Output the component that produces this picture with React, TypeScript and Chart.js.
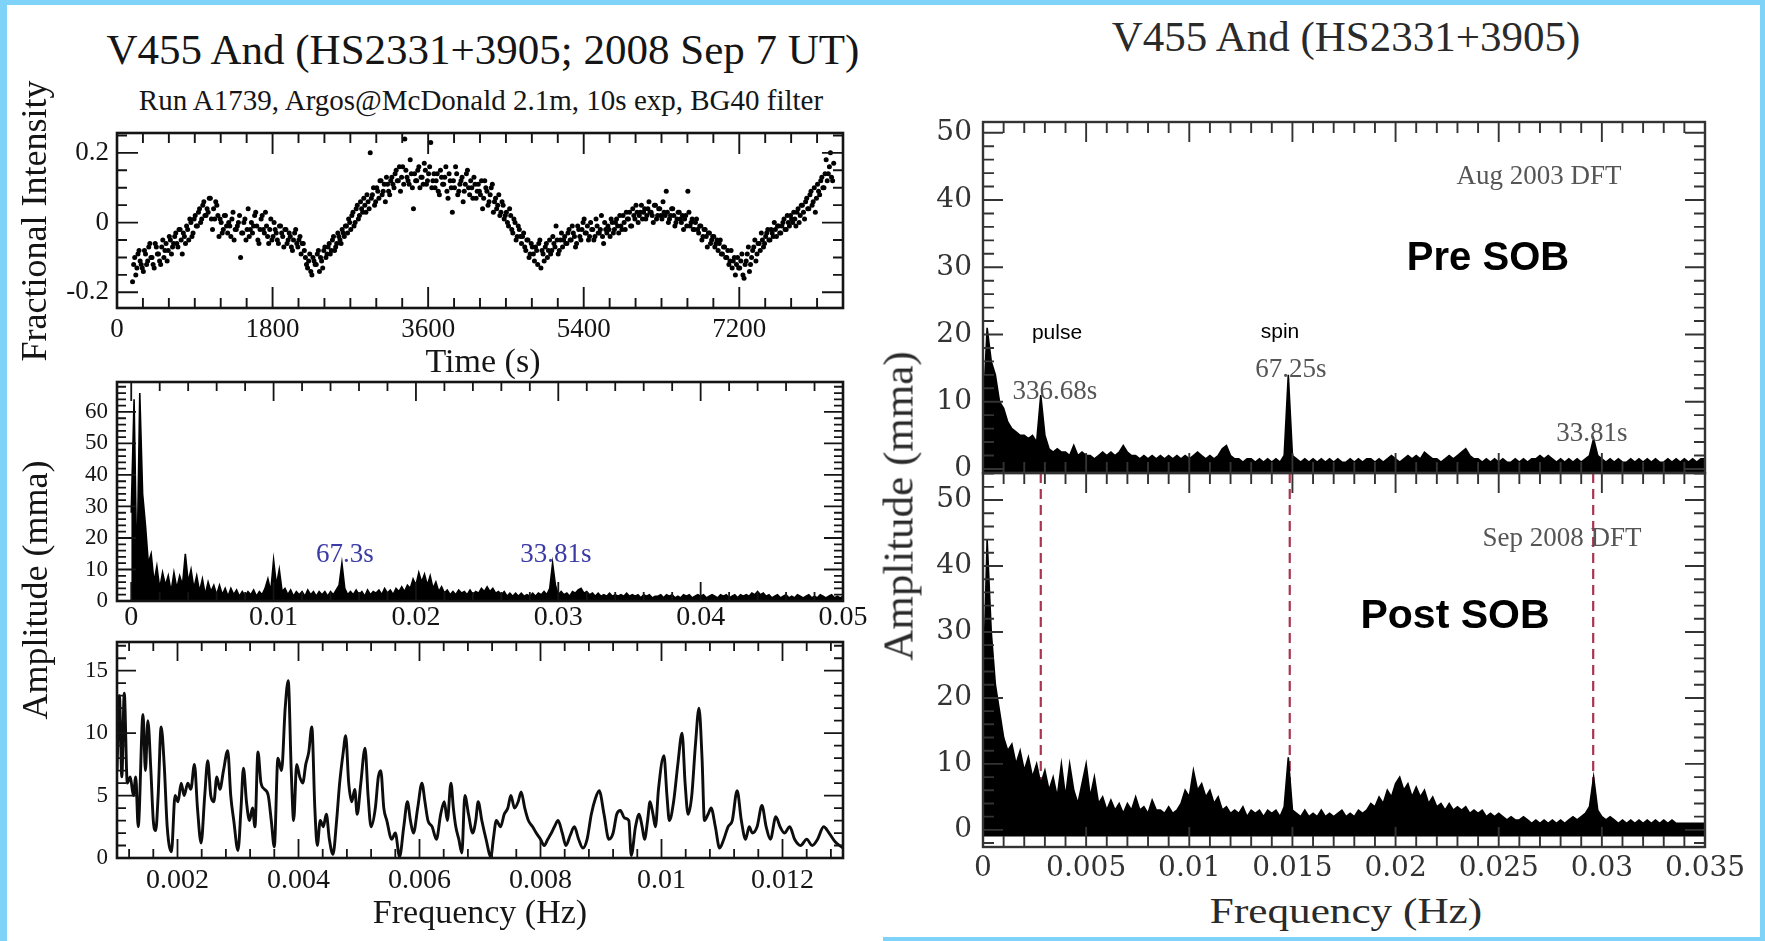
import React, { useEffect, useRef } from "react";
import { Chart, registerables } from "chart.js";

Chart.register(...registerables);

// ---------------- Panel 1: light curve (Run A1739) ----------------
const LC_T0 = 180; // s, time of first plotted point
const LC_DT = 25; // s, spacing of plotted points in each list
const LC_T0_B = 192.5; // s, second (interleaved) list of points
const LC_FLUX = [
  -0.17, -0.10, -0.13, -0.08, -0.12, -0.14, -0.09, -0.11, -0.06, -0.10, -0.13, -0.07, -0.09, -0.12, -0.05, -0.08, -0.11, -0.04, -0.09, -0.06,
  -0.03, -0.07, -0.02, -0.09, -0.04, -0.01, -0.05, 0.00, -0.03, 0.02, -0.01, 0.04, 0.01, 0.06, 0.02, 0.03, 0.07, -0.02, 0.01, 0.05,
  -0.04, 0.00, -0.02, 0.02, -0.03, -0.01, 0.01, -0.05, -0.02, 0.00, -0.10, -0.03, 0.01, -0.02, -0.04, 0.00, -0.01, 0.03, -0.05, -0.02,
  0.02, -0.03, -0.01, -0.06, 0.01, -0.04, -0.02, -0.05, -0.01, -0.03, -0.07, -0.02, -0.05, -0.04, -0.08, -0.03, -0.06, -0.05, -0.09, -0.06,
  -0.10, -0.13, -0.09, -0.15, -0.11, -0.12, -0.08, -0.10, -0.13, -0.07, -0.09, -0.06, -0.08, -0.04, -0.07, -0.03, -0.05, -0.02, -0.04, -0.01,
  0.01, -0.02, 0.03, 0.00, 0.05, 0.02, 0.04, 0.07, 0.03, 0.06, 0.20, 0.08, 0.05, 0.10, 0.07, 0.12, 0.09, 0.06, 0.11, 0.08,
  0.13, 0.10, 0.15, 0.12, 0.09, 0.16, 0.24, 0.13, 0.11, 0.14, 0.04, 0.12, 0.15, 0.10, 0.13, 0.17, 0.11, 0.14, 0.23, 0.12,
  0.10, 0.14, 0.08, 0.13, 0.11, 0.16, 0.07, 0.12, 0.03, 0.10, 0.14, 0.09, 0.12, 0.06, 0.11, 0.15, 0.08, 0.10, 0.13, 0.07,
  0.11, 0.08, 0.04, 0.12, 0.09, 0.06, 0.10, 0.03, 0.07, 0.05, 0.02, 0.06, 0.01, 0.03, -0.01, 0.02, -0.03, 0.00, -0.04, -0.02,
  -0.06, -0.03, -0.08, -0.05, -0.09, -0.07, -0.11, -0.08, -0.06, -0.13, -0.09, -0.07, -0.10, -0.05, -0.08, -0.06, -0.01, -0.09, -0.05, -0.07,
  -0.04, -0.06, -0.02, -0.05, -0.03, -0.07, -0.01, -0.04, -0.02, 0.01, -0.03, -0.05, 0.00, -0.02, -0.04, -0.01, -0.03, 0.02, -0.06, -0.02,
  -0.01, -0.04, 0.00, -0.02, 0.01, -0.03, -0.01, 0.02, -0.02, 0.01, 0.03, -0.01, 0.02, 0.05, 0.00, 0.03, 0.01, 0.04, 0.02, 0.06,
  0.03, 0.00, 0.05, 0.02, 0.04, 0.01, 0.03, 0.09, 0.00, 0.02, 0.04, -0.01, 0.01, 0.03, 0.00, -0.02, 0.02, 0.09, -0.01, 0.01,
  -0.02, 0.01, -0.03, -0.01, -0.04, -0.02, -0.07, -0.03, -0.05, -0.04, -0.06, -0.08, -0.05, -0.09, -0.07, -0.10, -0.12, -0.08, -0.11, -0.15,
  -0.10, -0.13, -0.09, -0.16, -0.11, -0.07, -0.12, -0.08, -0.05, -0.09, -0.06, -0.03, -0.07, -0.04, -0.02, -0.05, -0.03, 0.00, -0.04, -0.01,
  -0.03, 0.00, -0.02, 0.02, -0.01, 0.01, 0.03, -0.01, 0.04, 0.02, 0.05, 0.01, 0.07, 0.04, 0.09, 0.06, 0.03, 0.11, 0.08, 0.13,
  0.10, 0.18, 0.14, 0.20, 0.12,
];
const LC_FLUX_B = [
  -0.12, -0.15, -0.09, -0.11, -0.13, -0.08, -0.12, -0.07, -0.10, -0.12, -0.06, -0.09, -0.11, -0.07, -0.10, -0.06, -0.08, -0.05, -0.07, -0.04,
  -0.06, -0.02, -0.05, -0.03, -0.06, -0.02, 0.01, -0.04, 0.01, -0.01, 0.03, 0.00, 0.05, 0.02, 0.04, 0.07, 0.01, 0.04, 0.06, 0.02,
  0.01, -0.03, 0.02, -0.01, 0.00, -0.04, 0.03, -0.02, -0.01, 0.02, -0.03, 0.00, -0.05, 0.04, -0.02, -0.03, 0.02, -0.01, -0.06, 0.01,
  -0.02, 0.03, -0.04, -0.02, -0.05, 0.00, -0.03, -0.06, -0.01, -0.04, -0.02, -0.06, -0.03, -0.07, -0.05, -0.02, -0.07, -0.04, -0.06, -0.08,
  -0.12, -0.11, -0.14, -0.10, -0.12, -0.09, -0.14, -0.11, -0.08, -0.10, -0.07, -0.09, -0.05, -0.08, -0.06, -0.04, -0.06, -0.03, -0.01, -0.03,
  0.00, 0.02, -0.01, 0.04, 0.01, 0.06, 0.03, 0.05, 0.08, 0.04, 0.07, 0.10, 0.06, 0.09, 0.12, 0.08, 0.11, 0.13, 0.09, 0.12,
  0.11, 0.14, 0.12, 0.16, 0.13, 0.11, 0.15, 0.12, 0.18, 0.10, 0.14, 0.12, 0.16, 0.13, 0.11, 0.15, 0.12, 0.16, 0.10, 0.14,
  0.12, 0.09, 0.15, 0.11, 0.13, 0.09, 0.14, 0.10, 0.12, 0.16, 0.08, 0.11, 0.13, 0.09, 0.14, 0.10, 0.12, 0.07, 0.11, 0.09,
  0.09, 0.12, 0.07, 0.10, 0.05, 0.08, 0.11, 0.06, 0.04, 0.08, 0.03, 0.05, 0.02, 0.00, 0.04, -0.02, 0.01, -0.05, -0.01, -0.04,
  -0.04, -0.07, -0.05, -0.10, -0.06, -0.09, -0.07, -0.12, -0.05, -0.08, -0.11, -0.06, -0.08, -0.09, -0.04, -0.07, -0.05, -0.08, -0.03, -0.05,
  -0.06, -0.03, -0.05, -0.01, -0.04, -0.06, -0.02, -0.05, 0.00, -0.03, -0.01, -0.04, -0.02, -0.05, 0.01, -0.03, -0.02, -0.04, 0.00, -0.03,
  -0.02, 0.01, -0.03, 0.00, -0.01, 0.02, -0.02, 0.00, 0.03, 0.01, -0.01, 0.04, 0.01, 0.03, 0.02, 0.05, 0.03, 0.01, 0.04, 0.03,
  0.02, 0.05, 0.01, 0.04, 0.02, 0.06, 0.02, 0.03, 0.01, 0.04, 0.02, 0.00, 0.03, 0.01, 0.02, 0.01, -0.01, 0.03, 0.00, -0.02,
  0.00, -0.02, -0.01, -0.05, -0.02, -0.04, -0.03, -0.06, -0.04, -0.07, -0.05, -0.06, -0.09, -0.07, -0.10, -0.08, -0.11, -0.13, -0.10, -0.12,
  -0.13, -0.11, -0.15, -0.12, -0.09, -0.14, -0.10, -0.07, -0.11, -0.06, -0.08, -0.05, -0.06, -0.03, -0.05, -0.02, -0.04, -0.02, -0.01, -0.03,
  -0.01, 0.01, -0.02, 0.00, 0.02, 0.00, 0.01, 0.03, 0.00, 0.05, 0.03, 0.06, 0.04, 0.08, 0.05, 0.10, 0.07, 0.09, 0.12, 0.10,
  0.14, 0.12, 0.16, 0.13, 0.17,
];
const LC_X_TICKS = [0, 1800, 3600, 5400, 7200];
const LC_Y_TICKS = [-0.2, 0, 0.2];

// ---------------- Panel 2: DFT 0 - 0.05 Hz (Sep 2008) ----------------
const DFT_STEP = 0.0002; // Hz, frequency grid of the plotted amplitude spectra
const DFT_WIDE = [
  28, 64, 8, 66, 34, 24, 12, 15, 6, 11,
  4, 9, 5, 8, 3, 9, 4, 8, 5, 15,
  6, 10, 4, 8, 3, 7, 2, 6, 3, 5,
  2, 5, 2, 4, 1.5, 4, 2, 3.5, 1.5, 3,
  1.5, 3, 2, 3.5, 1.5, 3, 2, 4, 7, 3,
  13, 5, 10, 3, 4, 2, 3.5, 1.5, 3, 2,
  3, 1.5, 3.5, 2, 3, 1.5, 3, 2, 3, 1.5,
  3, 2, 3.5, 5, 12, 4, 2, 3, 2, 3.5,
  2, 3, 1.5, 3.5, 2, 3, 2.5, 3.5, 2, 4,
  2.5, 3.5, 2, 4, 3, 4.5, 3, 5, 4, 7,
  5, 9, 6, 8.5, 5, 8, 4, 6, 3, 4.5,
  2.5, 3.5, 2, 3, 2, 3.5, 2.5, 3, 2, 3.5,
  2, 3, 2.5, 4, 3, 4.5, 3, 4, 2.5, 3,
  2, 3, 1.5, 2.5, 1.5, 2.5, 1.5, 2.5, 1.5, 2,
  1.5, 2.5, 1.5, 2.5, 2, 3, 2, 4, 12, 5,
  2, 3, 2, 2.5, 1.5, 3, 2.5, 3.5, 4, 2.5,
  3, 2, 2.5, 1.5, 2.5, 1.5, 2, 1.5, 2.5, 1.5,
  2, 1.5, 2, 1.5, 2.5, 1.5, 2, 1.5, 2, 1,
  2, 1.5, 2, 1, 1.5, 1.5, 2, 1, 2, 1.5,
  2, 1, 1.5, 1, 2, 1.5, 2, 1, 1.5, 2,
  1.5, 2, 1, 1.5, 2, 1.5, 1, 2, 1.5, 2,
  1, 1.5, 2, 1, 2, 1.5, 2, 1.5, 2.5, 2,
  3, 2, 2.5, 1.5, 2, 1, 1.5, 2, 1, 1.5,
  2, 1, 1.5, 1, 2, 1.5, 1, 1.5, 2, 1,
  1.5, 1, 2, 1.5, 1, 1.5, 2, 1, 1.5, 1,
  1.5,
];
const WIDE_X_TICKS = [0, 0.01, 0.02, 0.03, 0.04, 0.05];
const WIDE_Y_TICKS = [0, 10, 20, 30, 40, 50, 60];

// ---------------- Panel 3: zoomed DFT 0.001 - 0.013 Hz ----------------
const ZOOM_FREQ = [
  0.00100, 0.00104, 0.00108, 0.00112, 0.00117, 0.00122, 0.00127, 0.00131, 0.00135, 0.00143,
  0.00147, 0.00151, 0.00156, 0.00160, 0.00164, 0.00168, 0.00173, 0.00178, 0.00183, 0.00190,
  0.00196, 0.00201, 0.00206, 0.00211, 0.00217, 0.00222, 0.00228, 0.00233, 0.00239, 0.00245,
  0.00250, 0.00255, 0.00260, 0.00265, 0.00270, 0.00276, 0.00283, 0.00288, 0.00293, 0.00300,
  0.00305, 0.00309, 0.00314, 0.00319, 0.00324, 0.00328, 0.00333, 0.00338, 0.00344, 0.00350,
  0.00355, 0.00360, 0.00366, 0.00372, 0.00378, 0.00383, 0.00388, 0.00392, 0.00397, 0.00402,
  0.00407, 0.00412, 0.00417, 0.00422, 0.00427, 0.00431, 0.00436, 0.00441, 0.00446, 0.00451,
  0.00457, 0.00463, 0.00468, 0.00474, 0.00478, 0.00483, 0.00488, 0.00493, 0.00497, 0.00503,
  0.00510, 0.00515, 0.00520, 0.00527, 0.00532, 0.00536, 0.00541, 0.00546, 0.00554, 0.00560,
  0.00567, 0.00574, 0.00580, 0.00585, 0.00590, 0.00597, 0.00604, 0.00609, 0.00614, 0.00621,
  0.00628, 0.00635, 0.00641, 0.00646, 0.00652, 0.00656, 0.00660, 0.00665, 0.00670, 0.00675,
  0.00681, 0.00688, 0.00693, 0.00697, 0.00703, 0.00710, 0.00718, 0.00722, 0.00727, 0.00734,
  0.00740, 0.00746, 0.00751, 0.00757, 0.00763, 0.00768, 0.00774, 0.00780, 0.00787, 0.00793,
  0.00800, 0.00806, 0.00812, 0.00818, 0.00823, 0.00829, 0.00836, 0.00842, 0.00849, 0.00856,
  0.00863, 0.00870, 0.00877, 0.00884, 0.00891, 0.00897, 0.00905, 0.00913, 0.00920, 0.00926,
  0.00932, 0.00939, 0.00946, 0.00950, 0.00957, 0.00963, 0.00968, 0.00972, 0.00977, 0.00981,
  0.00986, 0.00990, 0.00995, 0.01004, 0.01009, 0.01013, 0.01020, 0.01027, 0.01034, 0.01039,
  0.01044, 0.01050, 0.01056, 0.01062, 0.01067, 0.01071, 0.01077, 0.01082, 0.01089, 0.01096,
  0.01103, 0.01110, 0.01117, 0.01125, 0.01132, 0.01139, 0.01145, 0.01150, 0.01158, 0.01166,
  0.01173, 0.01180, 0.01189, 0.01196, 0.01203, 0.01212, 0.01220, 0.01230, 0.01240, 0.01249,
  0.01258, 0.01268, 0.01277, 0.01287, 0.01300,
];
const ZOOM_AMP = [
  7, 13, 6.5, 13.2, 6, 6.5, 5, 6.5, 2.5, 11.5,
  7, 11, 7, 3, 2.2, 5, 10.5, 7.5, 2.5, 0.5,
  5, 4.5, 6, 5, 6, 5.5, 7.5, 4, 1.2, 5,
  7.8, 5, 4.5, 6.5, 5.5, 7, 8.6, 5, 3, 0.6,
  4, 7.2, 4.5, 3, 4, 2.5, 8.5, 6, 5.5, 5,
  3, 0.9, 8, 7, 12, 14.2, 7, 3, 7.5, 6.5,
  6, 7.5, 8.5, 10.5, 4, 1, 3, 2.5, 3.5, 1.5,
  0.3, 3, 6, 8.5, 9.8, 6, 4.5, 5.5, 3.5, 6,
  8.8, 5, 2.5, 4, 6.5, 7, 4, 3, 1.5, 2,
  0.1, 2.5, 4.5, 3, 2, 4, 6, 4.5, 3, 2.5,
  1.5, 3.5, 4.5, 3, 6, 4, 2.5, 1.5, 0.4, 5,
  3.5, 2, 3, 4.5, 3, 1.5, 0.1, 1.5, 3, 2.5,
  3.5, 4, 5, 4, 4.5, 5.3, 4, 3, 2.5, 2,
  1.5, 1, 1.5, 2, 2.5, 3, 2, 1, 1.8, 2.5,
  1.5, 0.8, 1.5, 3.5, 4.8, 5.4, 3.5, 1.5, 2, 3.5,
  3.8, 3.2, 3, 0.2, 2.5, 3.5, 2.5, 1.5, 3, 4.5,
  3.5, 2.5, 5.5, 8.2, 5, 3, 4.5, 7.5, 10, 6,
  3.5, 5, 9, 12, 8, 3, 3.5, 4, 2.5, 0.8,
  1.5, 2.5, 3, 5.4, 3, 1.5, 2.5, 2, 2.5, 4.2,
  2.5, 1.5, 3.3, 2.5, 2, 2.5, 1.5, 1, 1.5, 1,
  1.5, 2.5, 2, 1.3, 0.8,
];
const ZOOM_X_TICKS = [0.002, 0.004, 0.006, 0.008, 0.01, 0.012];
const ZOOM_Y_TICKS = [0, 5, 10, 15];

// ---------------- Right: Aug 2003 vs Sep 2008 DFTs ----------------
const DFT_AUG2003 = [
  8, 21, 16, 14, 10, 9, 7, 6, 5.5, 5,
  5, 4.5, 5, 4, 11, 5, 3, 2.5, 3, 2.5,
  2.5, 2, 3.5, 2, 2.5, 2, 2, 1.5, 2, 2.5,
  2, 2.5, 2, 2.5, 3.5, 2.5, 2, 2, 1.5, 2,
  1.5, 2, 1.5, 2, 1.5, 2, 1.5, 2, 1.5, 2,
  1.5, 2, 2.5, 2, 1.5, 2, 1.5, 2, 3, 3.5,
  2, 1.5, 1.5, 1, 1.5, 1.5, 1, 1.5, 1, 1.5,
  1, 1.5, 1, 2, 14, 2, 1.5, 1, 1.5, 1,
  1.5, 1, 1.5, 1, 1.5, 1, 1.5, 1, 1, 1.5,
  1, 1.5, 1, 1.5, 1.5, 1, 1.5, 1, 1.5, 2,
  1.5, 1, 1.5, 2, 1.5, 2, 1.5, 2.5, 2, 1.5,
  1.5, 1, 1.5, 2, 1.5, 2, 2.5, 3, 2, 1.5,
  1.5, 1, 1.5, 1, 1.5, 1, 1.5, 1, 1, 1.5,
  1, 1.5, 1, 1.5, 1.5, 2, 1.5, 2, 1.5, 1,
  1.5, 1, 1.5, 1, 1.5, 1, 1.5, 2, 4.5, 2,
  1.5, 1, 1.5, 1, 1.5, 1, 1, 1.5, 1, 1.5,
  1, 1.5, 1, 1.5, 1, 1, 1.5, 1, 1.5, 1,
  1.5, 1, 1.5, 1, 1.5, 1.5,
];
const DFT_SEP2008 = [
  20, 44, 30, 22, 18, 14, 12, 13, 10, 12,
  9, 11, 8, 10, 7, 9, 6, 8, 5, 10,
  5, 10, 6, 4, 7, 10, 5, 8, 4, 5,
  3, 4.5, 3, 4, 2.5, 4, 3, 5, 3, 3.5,
  2.5, 4.5, 3, 3, 2.5, 3.5, 2.5, 3, 4, 6,
  5, 9, 6, 7, 5, 6, 4, 5, 3, 3.5,
  2.5, 3, 2.5, 3.5, 2, 3, 2.5, 3, 2, 3,
  2.5, 3, 2, 3.5, 11, 3, 2.5, 2, 3, 2,
  2.5, 2, 3, 2, 2.5, 2, 2.5, 3, 2, 2.5,
  2, 3, 2.5, 3, 4, 3.5, 5, 4, 6, 5,
  7, 8, 6, 7, 5, 6.5, 5, 6, 4, 5,
  3.5, 4, 3, 4, 3, 3.5, 3, 3.5, 2.5, 3,
  2.5, 3, 2, 2.5, 2, 2.5, 2, 1.5, 2, 1.5,
  1.5, 2, 1.5, 1, 1.5, 1, 1.5, 1, 1.5, 1,
  1.5, 1, 1.5, 2, 1.5, 2, 2.5, 3.5, 8, 3,
  2, 1.5, 2, 1.5, 1, 1.5, 1, 1.5, 1, 1.5,
  1, 1.5, 1, 1.5, 1, 1.5, 1, 1.5, 1, 1,
  1, 1, 1, 1, 1, 1,
];
const CMP_X_TICKS = [0, 0.005, 0.01, 0.015, 0.02, 0.025, 0.03, 0.035];
const CMP_Y_TICKS = [0, 10, 20, 30, 40, 50];
const MARKED_FREQS = [0.0028, 0.01487, 0.02958]; // pulse, spin, 33.81 s

// ---------------- helpers ----------------
const SERIF = "'Liberation Serif', 'Times New Roman', serif";
const SANS = "'Liberation Sans', Arial, sans-serif";

type Box = { l: number; t: number; r: number; b: number };
type Margin = { l: number; r: number; t: number; b: number };

function multiples(min: number, max: number, step: number): number[] {
  const out: number[] = [];
  const s = Math.ceil(min / step - 1e-9);
  const e = Math.floor(max / step + 1e-9);
  for (let k = s; k <= e; k++) out.push(+(k * step).toFixed(10));
  return out;
}

function gridPoints(vals: number[]) {
  return vals.map((v, i) => ({ x: +(i * DFT_STEP).toFixed(6), y: v }));
}

function makeFrame(spec: {
  xMajor: number[]; xMinor: number[]; yMajor: number[]; yMinor: number[];
  majorLen: number; minorLen: number; color: string; tickWidth: number; frameWidth: number;
}) {
  return {
    id: "frameTicks",
    afterDatasetsDraw(chart: any) {
      const { ctx, chartArea: a } = chart;
      const sx = chart.scales.x;
      const sy = chart.scales.y;
      ctx.save();
      ctx.strokeStyle = spec.color;
      ctx.lineWidth = spec.tickWidth;
      ctx.beginPath();
      const xt = (vals: number[], len: number) => {
        for (const v of vals) {
          const p = sx.getPixelForValue(v);
          if (p < a.left - 0.5 || p > a.right + 0.5) continue;
          ctx.moveTo(p, a.top); ctx.lineTo(p, a.top + len);
          ctx.moveTo(p, a.bottom); ctx.lineTo(p, a.bottom - len);
        }
      };
      const yt = (vals: number[], len: number) => {
        for (const v of vals) {
          const p = sy.getPixelForValue(v);
          if (p < a.top - 0.5 || p > a.bottom + 0.5) continue;
          ctx.moveTo(a.left, p); ctx.lineTo(a.left + len, p);
          ctx.moveTo(a.right, p); ctx.lineTo(a.right - len, p);
        }
      };
      xt(spec.xMinor, spec.minorLen);
      xt(spec.xMajor, spec.majorLen);
      yt(spec.yMinor, spec.minorLen);
      yt(spec.yMajor, spec.majorLen);
      ctx.stroke();
      ctx.lineWidth = spec.frameWidth;
      ctx.strokeRect(a.left, a.top, a.right - a.left, a.bottom - a.top);
      ctx.restore();
    },
  };
}

function xAxis(min: number, max: number, ticks: number[], font: any, color: string, pad: number, h: number, show = true) {
  return {
    type: "linear", min, max,
    afterBuildTicks: (s: any) => { s.ticks = ticks.map((v) => ({ value: v })); },
    afterFit: (s: any) => { s.height = h; s.paddingLeft = 0; s.paddingRight = 0; },
    ticks: { display: show, autoSkip: false, maxRotation: 0, minRotation: 0, padding: pad, font, color, callback: (v: any) => String(v) },
    grid: { display: false, drawTicks: false },
    border: { display: false },
  };
}

function yAxis(min: number, max: number, ticks: number[], font: any, color: string, pad: number, w: number) {
  return {
    type: "linear", min, max,
    afterBuildTicks: (s: any) => { s.ticks = ticks.map((v) => ({ value: v })); },
    afterFit: (s: any) => { s.width = w; s.paddingTop = 0; s.paddingBottom = 0; },
    ticks: { autoSkip: false, padding: pad, font, color, callback: (v: any) => String(v) },
    grid: { display: false, drawTicks: false },
    border: { display: false },
  };
}

function baseOptions(m: Margin, scales: any) {
  return {
    animation: false,
    responsive: false,
    devicePixelRatio: 1,
    layout: { padding: { left: 0, right: m.r, top: m.t, bottom: 0 } },
    plugins: { legend: { display: false }, tooltip: { enabled: false }, title: { display: false } },
    scales,
  };
}

function Panel({ box, m, build }: { box: Box; m: Margin; build: (m: Margin) => any }) {
  const ref = useRef<HTMLCanvasElement | null>(null);
  const w = box.r - box.l + m.l + m.r;
  const h = box.b - box.t + m.t + m.b;
  useEffect(() => {
    const c = ref.current;
    if (!c) return;
    const chart = new Chart(c, build(m));
    return () => chart.destroy();
  }, []);
  return (
    <canvas
      ref={ref}
      width={w}
      height={h}
      style={{ position: "absolute", left: box.l - m.l, top: box.t - m.t, width: w, height: h }}
    />
  );
}

function Label(props: {
  x: number; y: number; text: string; size: number; family?: string; weight?: number;
  color?: string; rotate?: boolean; scaleX?: number;
}) {
  const { x, y, text, size, family = SERIF, weight = 400, color = "#151515", rotate = false, scaleX = 1 } = props;
  const tr = `translate(-50%, -50%)${rotate ? " rotate(-90deg)" : ""}${scaleX !== 1 ? ` scaleX(${scaleX})` : ""}`;
  return (
    <div
      style={{
        position: "absolute", left: x, top: y, transform: tr, fontFamily: family, fontSize: size,
        fontWeight: weight, color, lineHeight: 1, whiteSpace: "nowrap",
      }}
    >
      {text}
    </div>
  );
}

// ---------------- panel configs ----------------
const P1: Box = { l: 117, t: 133, r: 843, b: 308 };
const P2: Box = { l: 117, t: 382, r: 843, b: 601 };
const P3: Box = { l: 117, t: 642, r: 843, b: 858 };
const R1: Box = { l: 983, t: 122, r: 1705, b: 473 };
const R2: Box = { l: 983, t: 473, r: 1705, b: 847 };

const LEFT_COLOR = "#141414";
const RIGHT_COLOR = "#333";

function buildP1(m: Margin) {
  const X = [0, 8400], Y = [-0.245, 0.257];
  const pt = { pointRadius: 2.5, pointBackgroundColor: "#000", pointBorderWidth: 0, showLine: false };
  return {
    type: "scatter",
    data: {
      datasets: [
        { data: LC_FLUX.map((v, i) => ({ x: LC_T0 + i * LC_DT, y: v })), ...pt },
        { data: LC_FLUX_B.map((v, i) => ({ x: LC_T0_B + i * LC_DT, y: v })), ...pt },
      ],
    },
    options: baseOptions(m, {
      x: xAxis(X[0], X[1], LC_X_TICKS, { family: "Liberation Serif", size: 27 }, LEFT_COLOR, 6, m.b),
      y: yAxis(Y[0], Y[1], LC_Y_TICKS, { family: "Liberation Serif", size: 27 }, LEFT_COLOR, 8, m.l),
    }),
    plugins: [makeFrame({
      xMajor: LC_X_TICKS, xMinor: multiples(X[0], X[1], 300), yMajor: LC_Y_TICKS, yMinor: multiples(Y[0], Y[1], 0.05),
      majorLen: 21, minorLen: 10, color: LEFT_COLOR, tickWidth: 1.9, frameWidth: 2.6,
    })],
  };
}

function buildP2(m: Margin) {
  const X = [-0.001, 0.05], Y = [0, 69.5];
  return {
    type: "line",
    data: {
      datasets: [{
        data: gridPoints(DFT_WIDE), borderColor: "#000", borderWidth: 1.6, pointRadius: 0,
        fill: "origin", backgroundColor: "#000", tension: 0,
      }],
    },
    options: baseOptions(m, {
      x: xAxis(X[0], X[1], WIDE_X_TICKS, { family: "Liberation Serif", size: 28 }, LEFT_COLOR, 0, m.b),
      y: yAxis(Y[0], Y[1], WIDE_Y_TICKS, { family: "Liberation Serif", size: 23 }, LEFT_COLOR, 9, m.l),
    }),
    plugins: [makeFrame({
      xMajor: WIDE_X_TICKS, xMinor: multiples(X[0], X[1], 0.002), yMajor: WIDE_Y_TICKS, yMinor: multiples(Y[0], Y[1], 2),
      majorLen: 19, minorLen: 9, color: LEFT_COLOR, tickWidth: 1.8, frameWidth: 2.6,
    })],
  };
}

function buildP3(m: Margin) {
  const X = [0.001, 0.013], Y = [0, 17.3];
  return {
    type: "line",
    data: {
      datasets: [{
        data: ZOOM_FREQ.map((f, i) => ({ x: f, y: ZOOM_AMP[i] })), borderColor: "#0d0d0d", borderWidth: 2.9,
        pointRadius: 0, fill: false, cubicInterpolationMode: "monotone",
      }],
    },
    options: baseOptions(m, {
      x: xAxis(X[0], X[1], ZOOM_X_TICKS, { family: "Liberation Serif", size: 28 }, LEFT_COLOR, 6, m.b),
      y: yAxis(Y[0], Y[1], ZOOM_Y_TICKS, { family: "Liberation Serif", size: 23 }, LEFT_COLOR, 9, m.l),
    }),
    plugins: [makeFrame({
      xMajor: ZOOM_X_TICKS, xMinor: multiples(X[0], X[1], 0.0004), yMajor: ZOOM_Y_TICKS, yMinor: multiples(Y[0], Y[1], 1),
      majorLen: 19, minorLen: 9, color: LEFT_COLOR, tickWidth: 1.8, frameWidth: 2.6,
    })],
  };
}

function buildR1(m: Margin) {
  const X = [0, 0.035], Y = [-0.6, 51.6];
  return {
    type: "line",
    data: {
      datasets: [{
        data: gridPoints(DFT_AUG2003), borderColor: "#000", borderWidth: 1.6, pointRadius: 0,
        fill: "start", backgroundColor: "#000", tension: 0,
      }],
    },
    options: baseOptions(m, {
      x: xAxis(X[0], X[1], CMP_X_TICKS, { family: "DejaVu Serif", size: 28 }, RIGHT_COLOR, 5, m.b, false),
      y: yAxis(Y[0], Y[1], CMP_Y_TICKS, { family: "DejaVu Serif", size: 28 }, RIGHT_COLOR, 11, m.l),
    }),
    plugins: [makeFrame({
      xMajor: CMP_X_TICKS, xMinor: multiples(X[0], X[1], 0.001), yMajor: CMP_Y_TICKS, yMinor: multiples(Y[0], Y[1], 2),
      majorLen: 20, minorLen: 11, color: RIGHT_COLOR, tickWidth: 1.9, frameWidth: 2.4,
    })],
  };
}

function buildR2(m: Margin) {
  const X = [0, 0.035], Y = [-2.6, 54.1];
  const dashes = {
    id: "markedFreqs",
    beforeDatasetsDraw(chart: any) {
      const { ctx, chartArea: a } = chart;
      const y0 = chart.scales.y.getPixelForValue(0);
      ctx.save();
      ctx.strokeStyle = "#a8344f";
      ctx.lineWidth = 2.2;
      ctx.setLineDash([10, 6]);
      for (const f of MARKED_FREQS) {
        const x = chart.scales.x.getPixelForValue(f);
        ctx.beginPath();
        ctx.moveTo(x, a.top);
        ctx.lineTo(x, y0);
        ctx.stroke();
      }
      ctx.restore();
    },
  };
  return {
    type: "line",
    data: {
      datasets: [{
        data: gridPoints(DFT_SEP2008), borderColor: "#000", borderWidth: 1.6, pointRadius: 0,
        fill: { value: -1 }, backgroundColor: "#000", tension: 0,
      }],
    },
    options: baseOptions(m, {
      x: xAxis(X[0], X[1], CMP_X_TICKS, { family: "DejaVu Serif", size: 28 }, RIGHT_COLOR, 5, m.b),
      y: yAxis(Y[0], Y[1], CMP_Y_TICKS, { family: "DejaVu Serif", size: 28 }, RIGHT_COLOR, 11, m.l),
    }),
    plugins: [dashes, makeFrame({
      xMajor: CMP_X_TICKS, xMinor: multiples(X[0], X[1], 0.001), yMajor: CMP_Y_TICKS, yMinor: multiples(Y[0], Y[1], 2),
      majorLen: 20, minorLen: 11, color: RIGHT_COLOR, tickWidth: 1.9, frameWidth: 2.4,
    })],
  };
}

const BLUE = "#7fd2f8";

export default function App() {
  return (
    <div
      style={{
        position: "fixed", left: 0, top: 0, width: 1765, height: 941, background: "#fff", overflow: "hidden",
      }}
    >
      {/* light-blue frame */}
      <div style={{ position: "absolute", left: 0, top: 0, width: 1765, height: 5, background: BLUE }} />
      <div style={{ position: "absolute", left: 0, top: 0, width: 7, height: 941, background: BLUE }} />
      <div style={{ position: "absolute", left: 1760, top: 0, width: 5, height: 941, background: BLUE }} />
      <div style={{ position: "absolute", left: 883, top: 937, width: 882, height: 4, background: BLUE }} />

      <Panel box={P1} m={{ l: 95, r: 45, t: 8, b: 42 }} build={buildP1} />
      <Panel box={P2} m={{ l: 95, r: 45, t: 8, b: 36 }} build={buildP2} />
      <Panel box={P3} m={{ l: 95, r: 45, t: 8, b: 40 }} build={buildP3} />
      <Panel box={R1} m={{ l: 70, r: 40, t: 8, b: 6 }} build={buildR1} />
      <Panel box={R2} m={{ l: 70, r: 50, t: 8, b: 40 }} build={buildR2} />

      {/* left figure text */}
      <Label x={483} y={49} text="V455 And (HS2331+3905; 2008 Sep 7 UT)" size={43} />
      <Label x={481} y={100} text="Run A1739, Argos@McDonald 2.1m, 10s exp, BG40 filter" size={29} />
      <Label x={34} y={221} text="Fractional Intensity" size={36} rotate />
      <Label x={483} y={361} text="Time (s)" size={34} />
      <Label x={35} y={590} text="Amplitude (mma)" size={36} rotate />
      <Label x={480} y={912} text="Frequency (Hz)" size={34} />
      <Label x={345} y={553} text="67.3s" size={27} color="#3b3ba6" />
      <Label x={556} y={553} text="33.81s" size={27} color="#3b3ba6" />

      {/* right figure text */}
      <Label x={1346} y={36} text="V455 And (HS2331+3905)" size={43} color="#2a2a2a" />
      <Label x={898} y={506} text="Amplitude (mma)" size={43} rotate color="#2a2a2a" />
      <Label x={1346} y={911} text="Frequency (Hz)" size={36} scaleX={1.2} color="#2a2a2a" />
      <Label x={1539} y={175} text="Aug 2003 DFT" size={27} color="#555" />
      <Label x={1562} y={537} text="Sep 2008 DFT" size={27} color="#555" />
      <Label x={1055} y={390} text="336.68s" size={27} color="#555" />
      <Label x={1291} y={368} text="67.25s" size={27} color="#555" />
      <Label x={1592} y={432} text="33.81s" size={27} color="#555" />
      <Label x={1488} y={256} text="Pre SOB" size={40} family={SANS} weight={700} color="#000" />
      <Label x={1455} y={614} text="Post SOB" size={41} family={SANS} weight={700} color="#000" />
      <Label x={1057} y={331} text="pulse" size={21} family={SANS} color="#000" />
      <Label x={1280} y={330} text="spin" size={21} family={SANS} color="#000" />
    </div>
  );
}
